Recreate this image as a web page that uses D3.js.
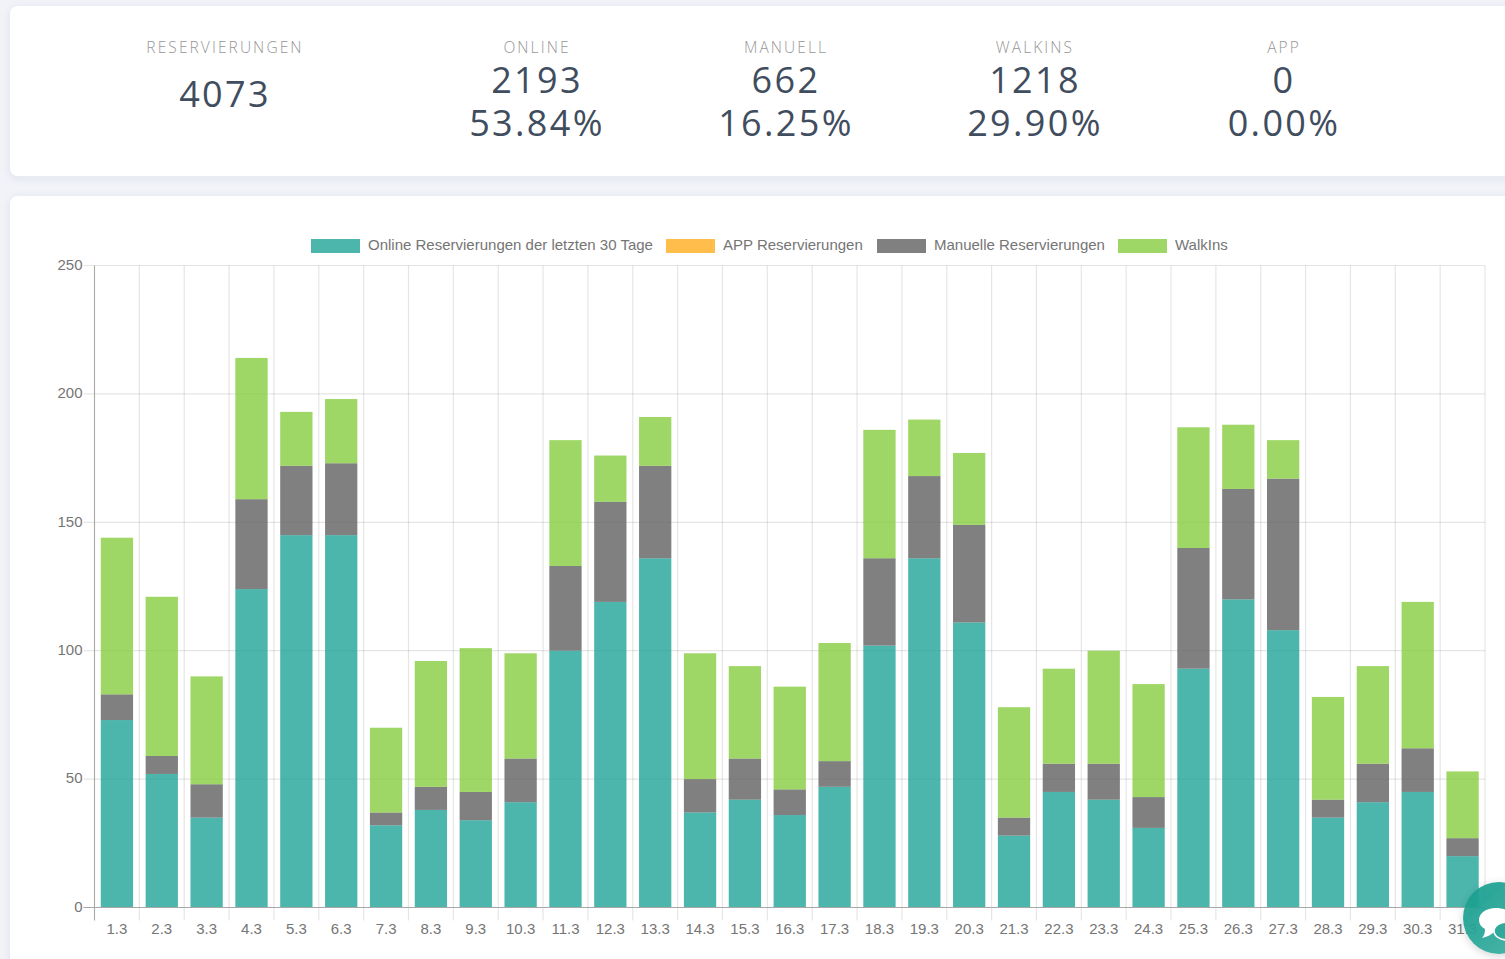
<!DOCTYPE html>
<html>
<head>
<meta charset="utf-8">
<script src="https://cdn.jsdelivr.net/npm/d3@7"></script>
<style>
  html, body { margin: 0; padding: 0; background: #f1f3f8; overflow: hidden; }
  svg { display: block; }
  .card-label { font-family: "Open Sans", sans-serif; font-weight: 300; font-size: 15.5px; letter-spacing: 2.1px; fill: #969696; text-anchor: middle; }
  .card-value { font-family: "Open Sans", sans-serif; font-size: 36px; letter-spacing: 2.35px; fill: #3f4d5e; text-anchor: middle; }
  .chart-text { font-family: "Liberation Sans", Arial, sans-serif; font-size: 15px; fill: #757575; }
</style>
</head>
<body>
<svg id="page" width="1505" height="959"></svg>
<script>
const days = ["1.3","2.3","3.3","4.3","5.3","6.3","7.3","8.3","9.3","10.3","11.3","12.3","13.3","14.3","15.3","16.3","17.3","18.3","19.3","20.3","21.3","22.3","23.3","24.3","25.3","26.3","27.3","28.3","29.3","30.3","31.3"];
const online = [73,52,35,124,145,145,32,38,34,41,100,119,136,37,42,36,47,102,136,111,28,45,42,31,93,120,108,35,41,45,20];
const app = days.map(() => 0);
const manual = [10,7,13,35,27,28,5,9,11,17,33,39,36,13,16,10,10,34,32,38,7,11,14,12,47,43,59,7,15,17,7];
const walkins = [61,62,42,55,21,25,33,49,56,41,49,18,19,49,36,40,46,50,22,28,43,37,44,44,47,25,15,40,38,57,26];

const seriesNames = ["Online Reservierungen der letzten 30 Tage", "APP Reservierungen", "Manuelle Reservierungen", "WalkIns"];
const seriesColors = ["#21a497", "#ffad1f", "#606060", "#86cd3e"];
const yTicks = [0, 50, 100, 150, 200, 250];

const cardLabels = ["RESERVIERUNGEN", "ONLINE", "MANUELL", "WALKINS", "APP"];
const cardCounts = ["4073", "2193", "662", "1218", "0"];
const cardPercents = [null, "53.84%", "16.25%", "29.90%", "0.00%"];
const cardCenters = [225, 537, 786, 1035, 1284];

const svg = d3.select("#page");

const defs = svg.append("defs");
const shadow = defs.append("filter").attr("id", "cardShadow")
  .attr("x", "-5%").attr("y", "-10%").attr("width", "110%").attr("height", "120%");
shadow.append("feDropShadow").attr("dx", 0).attr("dy", 2).attr("stdDeviation", 4)
  .attr("flood-color", "#39456a").attr("flood-opacity", 0.08);
const chatShadow = defs.append("filter").attr("id", "chatShadow")
  .attr("x", "-30%").attr("y", "-30%").attr("width", "160%").attr("height", "160%");
chatShadow.append("feDropShadow").attr("dx", 0).attr("dy", 2).attr("stdDeviation", 4)
  .attr("flood-color", "#000").attr("flood-opacity", 0.18);
const chatGradient = defs.append("linearGradient").attr("id", "chatFill")
  .attr("x1", 0).attr("y1", 0).attr("x2", 1).attr("y2", 1);
chatGradient.append("stop").attr("offset", "0%").attr("stop-color", "#129c8c");
chatGradient.append("stop").attr("offset", "100%").attr("stop-color", "#43b3a6");

// cards
svg.append("rect").attr("x", 10).attr("y", 6).attr("width", 1560).attr("height", 170)
  .attr("rx", 8).attr("fill", "#fff").attr("filter", "url(#cardShadow)");
svg.append("rect").attr("x", 10).attr("y", 196).attr("width", 1560).attr("height", 800)
  .attr("rx", 8).attr("fill", "#fff").attr("filter", "url(#cardShadow)");

const stats = svg.append("g").selectAll("g")
  .data(cardLabels.map((label, i) => ({ label, count: cardCounts[i], percent: cardPercents[i], cx: cardCenters[i] })))
  .join("g")
  .attr("transform", d => `translate(${d.cx},0)`);
stats.append("text").attr("class", "card-label").attr("y", 53).text(d => d.label);
stats.append("text").attr("class", "card-value").attr("y", d => d.percent ? 93 : 107).text(d => d.count);
stats.filter(d => d.percent).append("text").attr("class", "card-value").attr("y", 136).text(d => d.percent);

// chart
const plot = { left: 94.5, right: 1485, top: 265.5, bottom: 907.5 };

const x = d3.scaleBand().domain(days).range([plot.left, plot.right]).paddingInner(0).paddingOuter(0);
const y = d3.scaleLinear().domain([0, 250]).range([plot.bottom, plot.top]);

const rows = days.map((d, i) => ({ day: d, online: online[i], app: app[i], manual: manual[i], walkins: walkins[i] }));
const stacked = d3.stack().keys(["online", "app", "manual", "walkins"])(rows);

const grid = svg.append("g").attr("stroke", "rgba(0,0,0,0.1)").attr("stroke-width", 1.2);
grid.selectAll("line.h").data(yTicks.slice(1)).join("line").attr("class", "h")
  .attr("x1", plot.left - 11).attr("x2", plot.right)
  .attr("y1", d => y(d)).attr("y2", d => y(d));
grid.selectAll("line.v").data(days.slice(1).concat("end")).join("line").attr("class", "v")
  .attr("x1", (d, i) => plot.left + x.step() * (i + 1))
  .attr("x2", (d, i) => plot.left + x.step() * (i + 1))
  .attr("y1", plot.top).attr("y2", plot.bottom + 13);

const barWidth = x.step() * 0.72;
svg.append("g").selectAll("g")
  .data(stacked)
  .join("g")
  .attr("fill", (d, i) => seriesColors[i])
  .attr("fill-opacity", 0.8)
  .selectAll("rect")
  .data(d => d)
  .join("rect")
  .attr("x", d => x(d.data.day) + (x.step() - barWidth) / 2)
  .attr("width", barWidth)
  .attr("y", d => y(d[1]))
  .attr("height", d => y(d[0]) - y(d[1]));

// axes
const yAxis = svg.append("g").attr("transform", `translate(${plot.left},-1)`)
  .call(d3.axisLeft(y).tickValues(yTicks).tickSize(0).tickPadding(12));
yAxis.select(".domain").remove();
const xAxis = svg.append("g").attr("transform", `translate(0,${plot.bottom})`)
  .call(d3.axisBottom(x).tickSize(0).tickPadding(16));
xAxis.select(".domain").remove();
svg.selectAll(".tick text").attr("class", "chart-text").attr("font-family", null).attr("font-size", null);

svg.append("g").attr("stroke", "#a8a8a8").attr("stroke-width", 1.1)
  .call(g => g.append("line").attr("x1", plot.left).attr("x2", plot.left).attr("y1", plot.top).attr("y2", plot.bottom + 13))
  .call(g => g.append("line").attr("x1", plot.left - 11).attr("x2", plot.right).attr("y1", plot.bottom).attr("y2", plot.bottom));

// legend
const legendX = [311, 666, 877, 1118];
const legendWidth = 49;
const legend = svg.append("g").selectAll("g")
  .data(seriesNames)
  .join("g")
  .attr("transform", (d, i) => `translate(${legendX[i]},239)`);
legend.append("rect").attr("width", legendWidth).attr("height", 14)
  .attr("fill", (d, i) => seriesColors[i]).attr("fill-opacity", 0.8);
legend.append("text").attr("class", "chart-text").attr("x", legendWidth + 8).attr("y", 11).text(d => d);

// chat button
const chat = svg.append("g").attr("transform", "translate(1499,918)");
chat.append("circle").attr("r", 36).attr("fill", "url(#chatFill)").attr("fill-opacity", 0.93).attr("filter", "url(#chatShadow)");
chat.append("path").attr("fill", "#fff")
  .attr("d", "M-3,-10 C-13,-10 -20,-5 -20,2 C-20,6 -18,9 -14,11 C-14,15 -15,18 -17,20 C-12,19 -8,17 -5,14 C-4,14 -3,14 -2,14 C8,14 15,9 15,2 C15,-5 7,-10 -3,-10 Z");
chat.append("path").attr("fill", "#2fa99b").attr("stroke", "#fff").attr("stroke-width", 1.6)
  .attr("d", "M-5,13 C-5,8 1,4 8,4 C16,4 22,8 22,13 C22,18 16,22 8,22 C1,22 -5,18 -5,13 Z");
</script>
</body>
</html>
